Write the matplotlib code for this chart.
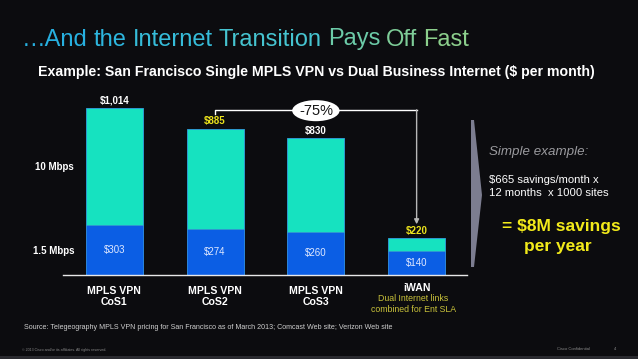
import matplotlib
matplotlib.use('Agg')
import matplotlib.pyplot as plt
from matplotlib.patches import Ellipse, Polygon, Rectangle

# data ($ per month)
categories = ['MPLS VPN\nCoS1', 'MPLS VPN\nCoS2', 'MPLS VPN\nCoS3', 'iWAN']
base_cost = [303, 274, 260, 140]
total_cost = [1014, 885, 830, 220]
top_cost = [t - b for t, b in zip(total_cost, base_cost)]
total_label_colors = ['white', '#ece31c', 'white', '#ece31c']
speed_labels = ['10 Mbps', '1.5 Mbps']
saving_label = '-75%'

title_words = ['\u2026And', 'the', 'Internet', 'Transition', 'Pays', 'Off', 'Fast']
title_colors = ['#27b0e0', '#2db6de', '#36bcd9', '#46c4d0', '#6ccba8', '#7ecd98', '#8ccf8c']

plt.rcParams['font.family'] = ['Liberation Sans', 'DejaVu Sans']

W, H = 638, 359
BG = '#0c0c0f'
TEAL = '#16e2c0'
BLUE = '#0b5ee4'


def fx(x):
    return x / W


def fy(y):
    return 1 - y / H


fig = plt.figure(figsize=(W / 100, H / 100), dpi=100, facecolor=BG)

# bar axes, placed in pixel terms
base_y = 274.5
ax = fig.add_axes([fx(63), fy(base_y), 404 / W, 197.6 / H])
ax.set_facecolor(BG)
ax.set_xlim(-0.51, 3.5)
ax.set_ylim(0, 1200)

x = range(len(categories))
w = 0.566
ax.bar(x, base_cost, w, color=BLUE, edgecolor='#2c86dc', linewidth=0.7, zorder=2)
ax.bar(x, top_cost, w, bottom=base_cost, color=TEAL, edgecolor='#2c9ad0', linewidth=0.7, zorder=2)

for i in x:
    ax.text(i, total_cost[i] + 14, f'${total_cost[i]:,}', ha='center', va='bottom',
            color=total_label_colors[i], fontsize=7, fontweight='bold')
    ax.text(i, base_cost[i] / 2, f'${base_cost[i]}', ha='center', va='center',
            color='#dfe8ff', fontsize=7)

for sp in ['top', 'right', 'left']:
    ax.spines[sp].set_visible(False)
ax.spines['bottom'].set_color('#e8e8e8')
ax.spines['bottom'].set_linewidth(1)
ax.set_yticks([])
ax.set_xticks(list(x)[:3])
ax.set_xticklabels(categories[:3], color='white', fontsize=7.6, fontweight='bold', linespacing=1.15)
ax.tick_params(axis='x', length=0, pad=8)

# iWAN sits a touch higher with its note underneath
ax.text(3, -80, categories[3], ha='center', va='center', color='white', fontsize=7.6,
        fontweight='bold', clip_on=False)
ax.text(2.965, -180, 'Dual Internet links\ncombined for Ent SLA', ha='center', va='center',
        color='#c9c23a', fontsize=6.3, linespacing=1.25, clip_on=False)

# speed labels on the left
ax.text(-0.4, 653, speed_labels[0], ha='right', va='center', color='white', fontsize=7, fontweight='bold')
ax.text(-0.4, 143, speed_labels[1], ha='right', va='center', color='white', fontsize=7, fontweight='bold')

# -75% bracket
ax.plot([1, 1, 3], [972, 998, 998], color='white', lw=1, zorder=3)
ax.annotate('', xy=(3, 305), xytext=(3, 1000),
            arrowprops=dict(arrowstyle='-|>', color='#b8b8b8', lw=1, mutation_scale=7, shrinkA=0, shrinkB=0))
ax.add_patch(Ellipse((2, 995), 0.47, 128, facecolor='white', edgecolor='none', zorder=4))
ax.text(2, 995, saving_label, ha='center', va='center', color='#151515', fontsize=10.5, zorder=5)

# title, word by word with a blue->green fade
renderer = fig.canvas.get_renderer()
xpos = 22
for word, col in zip(title_words, title_colors):
    t = fig.text(fx(xpos), fy(45.5), word, color=col, fontsize=17, va='baseline', ha='left')
    bb = t.get_window_extent(renderer)
    xpos = bb.x1 + 6

fig.text(fx(316), fy(72), 'Example: San Francisco Single MPLS VPN vs Dual Business Internet ($ per month)',
         ha='center', va='center', color='white', fontsize=10.2, fontweight='bold')

# chevron divider
fig.patches.append(Polygon([(fx(471), fy(120)), (fx(474), fy(120)), (fx(482), fy(195)),
                            (fx(474), fy(267)), (fx(471), fy(267))], closed=True,
                           transform=fig.transFigure, facecolor='#7c7d90', edgecolor='none'))

fig.text(fx(489), fy(152), 'Simple example:', color='#9a9a9e', fontsize=9.6, style='italic', va='center')
fig.text(fx(489), fy(180), '$665 savings/month x', color='white', fontsize=8.1, va='center')
fig.text(fx(489), fy(193), '12 months  x 1000 sites', color='white', fontsize=8.1, va='center')
fig.text(fx(561), fy(227), '= $8M savings', color='#f2ea1a', fontsize=12.5, fontweight='bold', ha='center', va='center')
fig.text(fx(558), fy(246), 'per year', color='#f2ea1a', fontsize=12.5, fontweight='bold', ha='center', va='center')

fig.text(fx(24), fy(327.5), 'Source: Telegeography MPLS VPN pricing for San Francisco as of March 2013; Comcast Web site; Verizon Web site',
         color='#cfcfcf', fontsize=5.1, va='center')

# footer
fig.text(fx(22), fy(349.5), '\u00a9 2013 Cisco and/or its affiliates. All rights reserved.', color='#8a8a8a', fontsize=2.6, va='center')
fig.text(fx(557), fy(349.5), 'Cisco Confidential', color='#8a8a8a', fontsize=3, va='center')
fig.text(fx(614), fy(349.5), '4', color='#8a8a8a', fontsize=3, va='center')
fig.patches.append(Rectangle((0, 0), 1, 3 / H, transform=fig.transFigure, facecolor='#2a2a2f', edgecolor='none'))

fig.savefig('out.png', dpi=100, facecolor=BG)
